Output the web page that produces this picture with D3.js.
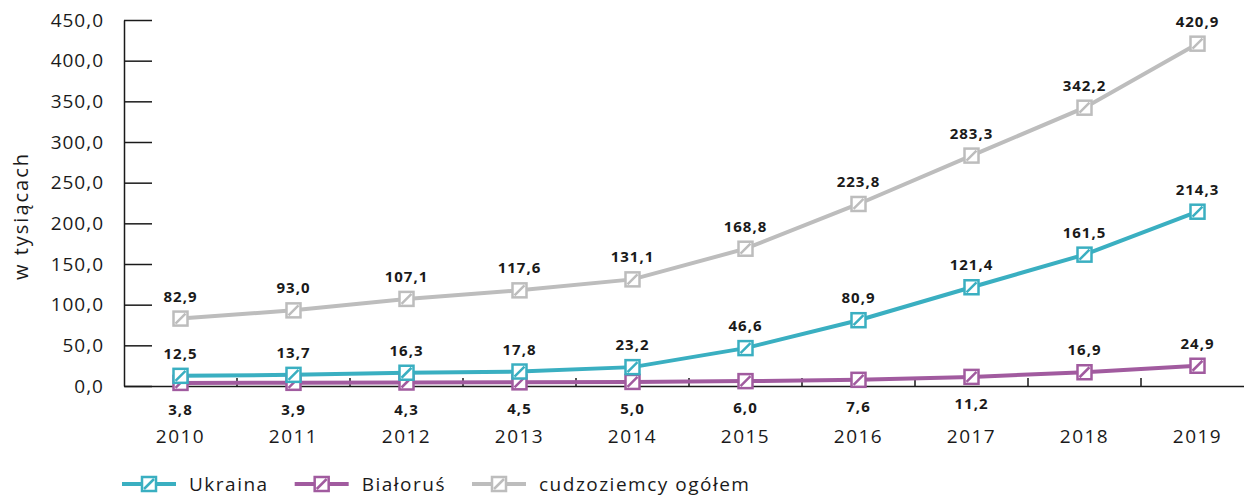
<!DOCTYPE html>
<html>
<head>
<meta charset="utf-8">
<script src="https://cdn.jsdelivr.net/npm/d3@7"></script>
<style>
  body { margin: 0; background: #fff; }
  text { font-family: "Open Sans", sans-serif; }
</style>
</head>
<body>
<svg id="chart" width="1244" height="497"></svg>
<script>
// data
const years = ["2010", "2011", "2012", "2013", "2014", "2015", "2016", "2017", "2018", "2019"];
const ukraina = [12.5, 13.7, 16.3, 17.8, 23.2, 46.6, 80.9, 121.4, 161.5, 214.3];
const bialorus = [3.8, 3.9, 4.3, 4.5, 5.0, 6.0, 7.6, 11.2, 16.9, 24.9];
const ogolem = [82.9, 93.0, 107.1, 117.6, 131.1, 168.8, 223.8, 283.3, 342.2, 420.9];
const yTicks = [0, 50, 100, 150, 200, 250, 300, 350, 400, 450];

const series = [
    { name: "cudzoziemcy ogółem", values: ogolem, color: "#bdbdbd", below: [] },
    { name: "Białoruś", values: bialorus, color: "#a15b9f", below: [0, 1, 2, 3, 4, 5, 6, 7] },
    { name: "Ukraina", values: ukraina, color: "#3aafc1", below: [] }
];
const legendOrder = ["Ukraina", "Białoruś", "cudzoziemcy ogółem"];

const pl = d3.formatLocale({ decimal: ",", thousands: " ", grouping: [3], currency: ["", " zł"] });
const fmt = pl.format(".1f");

const svg = d3.select("#chart");
const mLeft = 124, mRight = 1254, mTop = 20, mBottom = 386;

let x = d3.scaleBand().domain(years).range([mLeft, mRight]);
let y = d3.scaleLinear().domain([0, 450]).range([mBottom, mTop]);

// y axis
let yAxis = svg.append("g")
    .attr("transform", `translate(${mLeft},0)`)
    .call(d3.axisLeft(y).tickValues(yTicks).tickSizeInner(-28).tickSizeOuter(0).tickPadding(20).tickFormat(fmt));
yAxis.selectAll("path, line").attr("stroke", "#1a1a1a").attr("stroke-width", 1.5);
yAxis.selectAll("text").attr("font-size", 19).attr("letter-spacing", 1).attr("fill", "#1a1a1a");

// x axis
let xAxis = svg.append("g")
    .attr("transform", `translate(0,${mBottom})`)
    .call(d3.axisBottom(x).tickSize(0).tickPadding(44));
xAxis.select("path").attr("stroke", "#1a1a1a").attr("stroke-width", 1.5);
xAxis.selectAll("text").attr("font-size", 19).attr("letter-spacing", 1.5).attr("fill", "#1a1a1a");
xAxis.selectAll(".sep").data(years.slice(1)).join("line")
    .attr("class", "sep")
    .attr("x1", d => x(d)).attr("x2", d => x(d))
    .attr("y1", 0).attr("y2", -8)
    .attr("stroke", "#1a1a1a").attr("stroke-width", 1.5);

svg.append("text")
    .attr("transform", "translate(28,216) rotate(-90)")
    .attr("text-anchor", "middle")
    .attr("font-size", 20)
    .attr("letter-spacing", 2)
    .attr("fill", "#1a1a1a")
    .text("w tysiącach");

function marker(g, color) {
    g.append("rect")
        .attr("x", -7).attr("y", -7).attr("width", 14).attr("height", 14)
        .attr("fill", "#fff").attr("stroke", color).attr("stroke-width", 2.5);
    g.append("line")
        .attr("x1", -5).attr("y1", 5).attr("x2", 5).attr("y2", -5)
        .attr("stroke", color).attr("stroke-width", 2.5);
}

let line = d3.line()
    .x((d, i) => x(years[i]) + x.bandwidth() / 2)
    .y(d => y(d));

for (let s of series) {
    svg.append("path")
        .datum(s.values)
        .attr("fill", "none")
        .attr("stroke", s.color)
        .attr("stroke-width", 4)
        .attr("d", line);
}

for (let s of series) {
    let pts = svg.append("g").selectAll("g").data(s.values).join("g")
        .attr("transform", (d, i) => `translate(${x(years[i]) + x.bandwidth() / 2},${y(d)})`);
    pts.each(function () { marker(d3.select(this), s.color); });
    pts.append("text")
        .attr("text-anchor", "middle")
        .attr("font-size", 15)
        .attr("font-weight", "bold")
        .attr("letter-spacing", 1)
        .attr("fill", "#1a1a1a")
        .attr("y", (d, i) => s.below.includes(i) ? 32 : -17)
        .text(d => fmt(d));
}

// legend
let lg = svg.append("g").attr("transform", "translate(122,484)");
let lx = 0;
for (let name of legendOrder) {
    let s = series.find(d => d.name == name);
    let item = lg.append("g").attr("transform", `translate(${lx},0)`);
    item.append("line").attr("x1", 0).attr("x2", 54).attr("stroke", s.color).attr("stroke-width", 4);
    marker(item.append("g").attr("transform", "translate(27,0)"), s.color);
    let t = item.append("text").attr("x", 67).attr("dy", "0.35em")
        .attr("font-size", 19).attr("letter-spacing", 1.5).attr("fill", "#1a1a1a").text(name);
    lx += 67 + t.node().getComputedTextLength() + 26;
}
</script>
</body>
</html>
